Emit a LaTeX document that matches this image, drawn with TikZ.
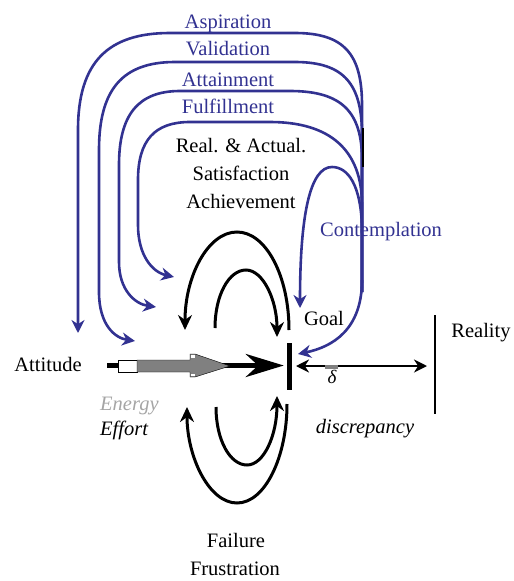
\documentclass[tikz,border=0pt]{standalone}
\usepackage{fontspec}
\setmainfont{Liberation Serif}
\usetikzlibrary{arrows.meta}
\definecolor{arcblue}{RGB}{50,50,145}
\definecolor{arrowgray}{RGB}{128,128,128}
\definecolor{energygray}{RGB}{165,165,165}
\tikzset{
  lbl/.style={anchor=base, font=\fontsize{20.5}{24}\selectfont, inner sep=0pt},
  bluelbl/.style={lbl, text=arcblue},
  bluearc/.style={draw=arcblue, line width=2.6pt, -{Stealth[length=13pt,width=13pt]}},
  bluepath/.style={draw=arcblue, line width=2.6pt},
  blackarc/.style={draw=black, line width=3pt, -{Stealth[length=15pt,width=14pt]}},
}
\begin{document}
\begin{tikzpicture}[x=1pt,y=-1pt]
\useasboundingbox (0,0) rectangle (514,581);

% ---- labels ----
\node[bluelbl] (asp) at (228,28) {Aspiration};
\node[bluelbl] (val) at (228,55) {Validation};
\node[bluelbl] (att) at (228,86) {Attainment};
\node[bluelbl] (ful) at (228,113) {Fulfillment};
\node[lbl] (real) at (241,152) {Real. \& Actual.};
\node[lbl] (sat) at (241,180) {Satisfaction};
\node[lbl] (ach) at (241,208) {Achievement};
\node[bluelbl] (cont) at (381,236) {Contemplation};
\node[lbl] (goal) at (324,325) {Goal};
\node[lbl] (reality) at (481,337) {Reality};
\node[lbl] (attitude) at (48,371) {Attitude};
\node[lbl, anchor=base west, text=energygray, font=\fontsize{20.5}{24}\selectfont\itshape] (energy) at (100,410) {Energy};
\node[lbl, anchor=base west, font=\fontsize{20.5}{24}\selectfont\itshape] (effort) at (100,435) {Effort};
\node[lbl, font=\fontsize{20.5}{24}\selectfont\itshape] (disc) at (365,433) {discrepancy};
\node[lbl] (fail) at (236,547) {Failure};
\node[lbl] (frus) at (235,575) {Frustration};
\node[lbl, font=\fontsize{19}{22}\selectfont\itshape] (delta) at (332,383) {δ};

% ---- goal bar ----
\node[fill=black, minimum width=5pt, minimum height=47pt, inner sep=0pt] (goalbar) at (289.5,366.5) {};

% ---- coordinates ----
\coordinate (merge) at (362,292);
\coordinate (aspend) at (78,333);
\coordinate (valend) at (135,341);
\coordinate (attend) at (156,307);
\coordinate (fulend) at (174,277);
\coordinate (contend) at (300,308);
\coordinate (goaltip) at (298,354);
\coordinate (attstart) at (107,365.5);
\coordinate (dleft) at (296,366);
\coordinate (dright) at (427,366);
\coordinate (realtop) at (435,315);
\coordinate (realbot) at (435,414);
\coordinate (blk1) at (363,128);
\coordinate (blk2) at (363,167);

% ---- blue arcs ----
\draw[bluearc] (merge) -- (362,105) .. controls (362,55) and (345,33) .. (295,33)
  -- (170,33) .. controls (108,33) and (78,62) .. (78,130) -- (aspend);
\draw[bluearc] (merge) -- (362,135) .. controls (362,85) and (345,62) .. (295,62)
  -- (175,62) .. controls (122,62) and (99,90) .. (99,150) -- (99,292)
  .. controls (99,325) and (115,338) .. (valend);
\draw[bluearc] (merge) -- (362,160) .. controls (362,112) and (342,91) .. (290,91)
  -- (180,91) .. controls (138,91) and (119,115) .. (119,165) -- (119,262)
  .. controls (119,290) and (135,304) .. (attend);
\draw[bluearc] (merge) -- (362,205) .. controls (362,150) and (330,122) .. (270,122)
  -- (190,122) .. controls (155,122) and (138,140) .. (138,180) -- (138,225)
  .. controls (138,255) and (152,272) .. (fulend);
\draw[bluearc] (362,228) .. controls (361,185) and (348,167) .. (332,167)
  .. controls (310,167) and (300,215) .. (contend);
\draw[bluepath] (merge) -- (362,282);
\draw[bluearc] (362,280) .. controls (362,330) and (332,347) .. (goaltip);
\draw[black, line width=2pt] (blk1) -- (blk2);

% ---- black loops ----
\draw[blackarc] (289,330) .. controls (289,276) and (266,232) .. (237,232)
  .. controls (208,232) and (185,276) .. (185,330);
\draw[blackarc] (215,328) .. controls (215,295) and (229,270) .. (246,270)
  .. controls (263,270) and (277,300) .. (277,337);
\draw[blackarc] (287,404) .. controls (287,457) and (265,503) .. (237,503)
  .. controls (209,503) and (187,457) .. (187,407);
\draw[blackarc] (216,407) .. controls (216,440) and (230,465) .. (247,465)
  .. controls (264,465) and (277,435) .. (277,396);

% ---- main arrow ----
\draw[line width=5pt, -{Stealth[length=38pt,width=23pt]}] (attstart) -- ([xshift=-3pt]goalbar.west |- attstart);
\draw[thin, fill=white] (118,360) rectangle (137,372);
\draw[thin, fill=arrowgray] (137,360) -- (190,360) -- (190,354) -- (195,354) -- (230,366)
  -- (195,377) -- (190,377) -- (190,372) -- (137,372) -- cycle;
\fill[white] (190.5,354.6) rectangle (194.5,358);
\fill[white] (190.5,373.5) rectangle (194.5,376.4);

% ---- discrepancy ----
\draw[line width=2.4pt, {Stealth[length=13pt,width=13pt]}-{Stealth[length=13pt,width=13pt]}] (dleft) -- (dright);
\fill[arrowgray] (325,364.5) rectangle (338,368.5);
\draw[line width=1.5pt] (realtop) -- (realbot);
\end{tikzpicture}
\end{document}
